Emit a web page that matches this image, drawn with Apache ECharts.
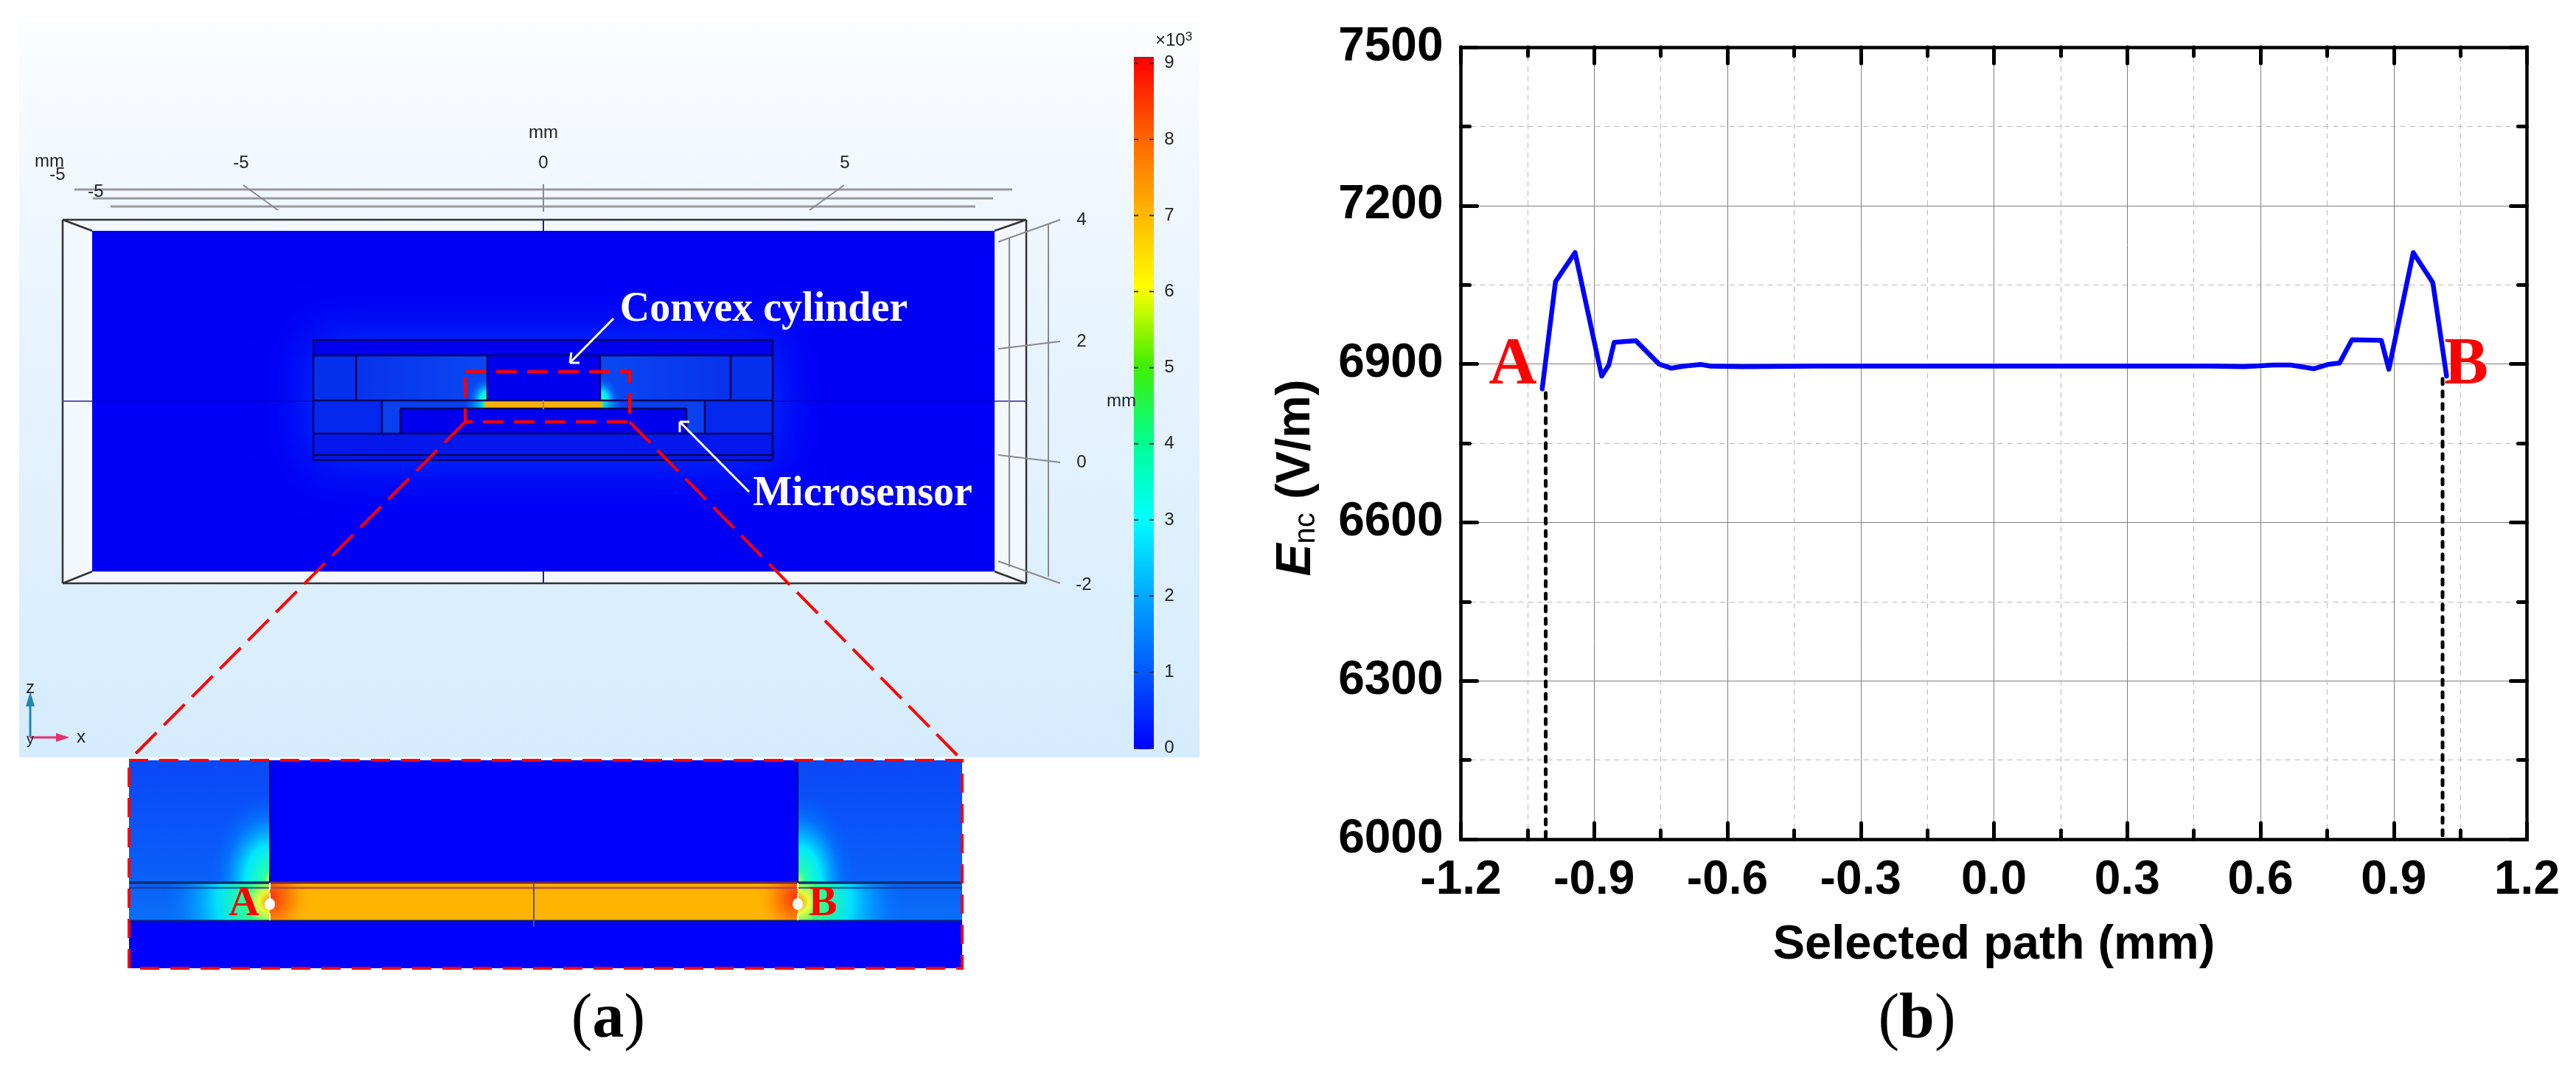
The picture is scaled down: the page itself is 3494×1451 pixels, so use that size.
<!DOCTYPE html>
<html>
<head>
<meta charset="utf-8">
<style>html,body{margin:0;padding:0;background:#fff}#c{width:3494px;height:1451px}</style>
<script src="https://cdn.jsdelivr.net/npm/echarts@6/dist/echarts.min.js"></script>
</head>
<body>
<div id="c"></div>
<script>
// ---------- chart (b) data ----------
const pathX = [-1.017,-0.987,-0.943,-0.883,-0.867,-0.855,-0.806,-0.754,-0.726,-0.698,-0.660,-0.638,-0.566,-0.4,-0.2,0,0.2,0.4,0.491,0.563,0.629,0.668,0.720,0.751,0.778,0.806,0.872,0.889,0.944,0.988,1.019];
const pathE = [6853,7056,7111,6877,6898,6941,6944,6900,6892,6896,6899,6896,6895,6896,6896,6896,6896,6896,6896,6895,6898,6898,6891,6899,6902,6946,6945,6890,7111,7054,6877];
const guideAX = [-1.009,-1.009];
const guideAE = [6845,6000];
const guideBX = [1.010,1.010];
const guideBE = [6872,6000];
const xTickLabels = ['-1.2','-0.9','-0.6','-0.3','0.0','0.3','0.6','0.9','1.2'];
const yTickLabels = ['6000','6300','6600','6900','7200','7500'];
// ---------- panel (a) labels ----------
const colorbarLabels = ['0','1','2','3','4','5','6','7','8','9'];
const colorbarColors = ['#0000ff','#0058ff','#00a8ff','#00ffff','#00ff90','#40f000','#ffff00','#ffb400','#ff6000','#ff0000'];

const SANS='"Liberation Sans",Arial,sans-serif', SERIF='"Liberation Serif","Times New Roman",serif';
const g=[];
const rect=(x,y,w,h,fill,z,extra)=>g.push({type:'rect',shape:{x,y,width:w,height:h},style:Object.assign({fill},extra||{}),z:z||1,silent:true});
const line=(x1,y1,x2,y2,stroke,lineWidth,lineDash,z)=>g.push({type:'line',shape:{x1,y1,x2,y2},style:{stroke,lineWidth:lineWidth||2,lineDash:lineDash||null},z:z||2,silent:true});
const txt=(x,y,text,font,size,fill,opt)=>g.push({type:'text',x,y,style:Object.assign({text,fontFamily:font,fontSize:size,fill,align:'center',verticalAlign:'middle'},opt||{}),z:6,silent:true});
const vGrad=(stops)=>({type:'linear',x:0,y:0,x2:0,y2:1,colorStops:stops});
const hGrad=(stops)=>({type:'linear',x:0,y:0,x2:1,y2:0,colorStops:stops});
const rad=(x,y,r,stops)=>({type:'radial',x,y,r,colorStops:stops});
// elliptical corner glow: the corner (cx,cy) is the bottom corner of the quadrant facing outwards from the cylinder
const glow=(cx,cy,rx,ry,dir,stops,z)=>g.push({type:'rect',x:dir<0?cx-rx:cx,y:cy-ry,scaleY:ry/rx,shape:{x:0,y:0,width:rx,height:rx},
  style:{fill:rad(dir<0?1:0,1,1,stops)},z:z||2,silent:true});
const glowStops=[{offset:0,color:'#c0ff50'},{offset:.14,color:'#20ffb0'},{offset:.4,color:'#00e8ff'},{offset:.72,color:'rgba(0,130,255,.6)'},{offset:1,color:'rgba(0,90,255,0)'}];
const bandStops=[{offset:0,color:'#ff8000'},{offset:.1,color:'#e8ff40'},{offset:.22,color:'#30ff90'},{offset:.48,color:'#00e0ff'},{offset:1,color:'rgba(0,90,255,0)'}];

// background
rect(26,29,1601,998,vGrad([{offset:0,color:'#fcfdff'},{offset:.35,color:'#eaf5fe'},{offset:1,color:'#d5ecfe'}]),0);
// COMSOL box
rect(85,298,1307,493,'#f2f8fe',1);
rect(125,313,1224,462,'#0000f5',1);
[[85,298,1392,298],[85,791,1392,791],[85,298,85,791],[1392,298,1392,791],[85,298,125,313],[1392,298,1349,313],[85,791,125,775],[1392,791,1349,775]].forEach(a=>line(a[0],a[1],a[2],a[3],'#333',2.5));
line(85,544,125,544,'#5a5ab0',2);line(1349,544,1392,544,'#5a5ab0',2);
line(737,298,737,313,'#2020a0',2);line(737,775,737,791,'#2020a0',2);
// device with a soft halo
rect(425,461,623,163,'#0000ee',2,{shadowBlur:70,shadowColor:'rgba(0,80,255,.75)'});
rect(425,482,58,61,'#0530ee',2);rect(991,482,57,61,'#0530ee',2);
rect(483,482,178,61,hGrad([{offset:0,color:'#0832ee'},{offset:1,color:'#0a48f2'}]),2);
rect(814,482,177,61,hGrad([{offset:0,color:'#0a48f2'},{offset:1,color:'#0832ee'}]),2);
rect(425,543,93,45,'#0428ee',2);rect(956,543,92,45,'#0428ee',2);
rect(518,543,139,45,'#0a40f0',2);rect(817,543,139,45,'#0a40f0',2);
rect(543,554,388,34,'#0000ee',3);
rect(425,588,623,36,'#0418ee',2);
glow(661,543,26,32,-1,glowStops,3);glow(814,543,26,32,1,glowStops,3);
rect(630,543,27,11,hGrad([{offset:0,color:'rgba(0,150,255,0)'},{offset:1,color:'#00f0e0'}]),3);
rect(817,543,27,11,hGrad([{offset:0,color:'#00f0e0'},{offset:1,color:'rgba(0,150,255,0)'}]),3);
rect(657,543,160,11,'#f8b000',3);
[[425,461,1048,461],[425,482,1048,482],[425,543,1048,543],[425,588,1048,588],[425,617,1048,617],[425,624,1048,624],[425,461,425,624],[1048,461,1048,624],[483,482,483,543],[991,482,991,543],[661,482,661,543],[814,482,814,543],[518,543,518,588],[956,543,956,588],[543,554,931,554],[543,554,543,588],[931,554,931,588]].forEach(a=>line(a[0],a[1],a[2],a[3],'#05055c',2.5,null,4));
line(125,544,425,544,'rgba(0,0,120,.5)',1.5,null,4);line(1048,544,1349,544,'rgba(0,0,120,.5)',1.5,null,4);
line(737,543,737,555,'#8080c0',2,null,4);
// axes decoration
[[101,257,1373,257],[126,269,1347,269],[150,280,1323,280]].forEach(a=>line(a[0],a[1],a[2],a[3],'#999',3));
[[330,251,377,285],[737,250,737,287],[1145,251,1098,285],[1354,328,1438,298],[1354,473,1438,463],[1354,617,1438,627],[1354,761,1438,791],[1369,324,1369,769],[1422,304,1422,782]].forEach(a=>line(a[0],a[1],a[2],a[3],'#8a8a8a',2));
[['mm',737,180],['-5',327,221],['0',737,221],['5',1146,221],['mm',67,219],['-5',78,237],['-5',130,260],['4',1467,298],['2',1467,463],['0',1467,627],['-2',1470,793],['mm',1521,544]].forEach(a=>txt(a[1],a[2],a[0],SANS,24,'#222'));
// triad
line(41,1000,41,950,'#2088b0',3);g.push({type:'polygon',shape:{points:[[41,938],[35,958],[47,958]]},style:{fill:'#2088b0'},z:3,silent:true});
line(41,1000,84,1000,'#e8306a',3);g.push({type:'polygon',shape:{points:[[94,1000],[76,994],[76,1006]]},style:{fill:'#e8306a'},z:3,silent:true});
txt(41,933,'z',SANS,24,'#222');txt(110,1000,'x',SANS,24,'#222');txt(41,1003,'y',SANS,20,'#222');
// colorbar
rect(1538,78,27,938,vGrad(colorbarColors.map((c,i)=>({offset:1-i/9,color:c})).reverse()),3);
line(1538,78,1565,78,'#333',1.5,null,4);
colorbarLabels.forEach((s,i)=>{const y=1014.6-i*103.2;txt(1586,y,s,SANS,24,'#222');line(1538,y,1544,y,'#333',2,null,4);line(1559,y,1565,y,'#333',2,null,4);});
g.push({type:'text',x:1592,y:55,style:{text:'×10{s|3}',rich:{s:{fontSize:17,verticalAlign:'top',fontFamily:SANS,fill:'#222',padding:[0,0,10,0]}},fontFamily:SANS,fontSize:24,fill:'#222',align:'center',verticalAlign:'middle'},z:6,silent:true});
// annotations
txt(1036,421,'Convex cylinder',SERIF,56,'#fff',{fontWeight:'bold'});
txt(1170,671,'Microsensor',SERIF,56,'#fff',{fontWeight:'bold'});
const arrow=(x1,y1,x2,y2)=>{line(x1,y1,x2,y2,'#fff',3,null,7);};
arrow(832,432,773,492);line(773,492,786,492,'#fff',3,null,7);line(773,492,775,478,'#fff',3,null,7);
arrow(1016,667,922,572);line(922,572,935,572,'#fff',3,null,7);line(922,572,922,586,'#fff',3,null,7);
// red guide
g.push({type:'rect',shape:{x:631,y:504,width:223,height:68},style:{fill:null,stroke:'#f00',lineWidth:4,lineDash:[28,14]},z:8,silent:true});
line(631,572,175,1031,'#f00',4,[40,14],8);line(854,572,1305,1031,'#f00',4,[40,14],8);
// magnified panel
rect(175,1031,1130,282,'#0000ff',1);
rect(175,1031,191,218,vGrad([{offset:0,color:'#0a48f6'},{offset:.5,color:'#0a58f8'},{offset:.76,color:'#0a60f8'},{offset:1,color:'#0a70f8'}]),1);
rect(1082,1031,223,218,vGrad([{offset:0,color:'#0a48f6'},{offset:.5,color:'#0a58f8'},{offset:.76,color:'#0a60f8'},{offset:1,color:'#0a70f8'}]),1);
rect(366,1031,716,166,'#0000ff',2);
glow(366,1197,85,125,-1,glowStops,2);
glow(1082,1197,80,125,1,glowStops,2);
rect(216,1197,150,52,rad(1,.5,2.9,bandStops),2);
rect(1082,1197,150,52,rad(0,.5,2.9,bandStops),2);
rect(366,1197,716,52,'#ffb400',2);
rect(366,1197,60,52,rad(0,.4,1.1,[{offset:0,color:'#ff3010'},{offset:.55,color:'#ff8c00'},{offset:1,color:'rgba(255,180,0,0)'}]),3);
rect(1022,1197,60,52,rad(1,.4,1.1,[{offset:0,color:'#ff3010'},{offset:.55,color:'#ff8c00'},{offset:1,color:'rgba(255,180,0,0)'}]),3);
line(175,1197,366,1197,'#103070',3.5,null,4);line(1082,1197,1305,1197,'#103070',3.5,null,4);
line(175,1204,366,1204,'rgba(20,50,130,.7)',2.5,null,4);line(1082,1204,1305,1204,'rgba(20,50,130,.7)',2.5,null,4);
line(366,1197,1082,1197,'#7a2a30',3,null,4);line(366,1204,1082,1204,'rgba(170,70,70,.8)',3,null,4);
line(175,1249,1305,1249,'#081a80',3,null,4);
line(366,1031,366,1197,'#05055c',2,null,4);line(1082,1031,1082,1197,'#05055c',2,null,4);
line(724,1197,724,1257,'#5050a0',2,null,4);
[366,1082].forEach(x=>{line(x,1197,x,1253,'#fff',2,[9,5],5);g.push({type:'ellipse',shape:{cx:x,cy:1226,rx:7,ry:8},style:{fill:'#fff'},z:5,silent:true});});
txt(331,1226,'A',SERIF,58,'#f00',{fontWeight:'bold'});txt(1116,1226,'B',SERIF,58,'#f00',{fontWeight:'bold'});
g.push({type:'rect',shape:{x:175,y:1031,width:1130,height:282},style:{fill:null,stroke:'#f00',lineWidth:4,lineDash:[26,15]},z:8,silent:true});
// captions
const cap=(x,t)=>g.push({type:'text',x,y:1384,style:{text:'{p|(}{b|'+t+'}{p|)}',rich:{p:{fontFamily:SERIF,fontSize:86,fill:'#000'},b:{fontFamily:SERIF,fontSize:86,fontWeight:'bold',fill:'#000'}},align:'center',verticalAlign:'middle'},z:6,silent:true});
cap(825,'a');cap(2600,'b');
// A/B labels chart
txt(2052,497,'A',SERIF,90,'#f00',{fontWeight:'bold'});
txt(3345,497,'B',SERIF,90,'#f00',{fontWeight:'bold'});

const frame={lineStyle:{color:'#000',width:4.5,cap:'square'}};
const mkX=(pos,show)=>({type:'value',position:pos,min:-1.2,max:1.2,interval:0.3,
  axisLine:Object.assign({show:true,onZero:false},frame),
  axisTick:{show:true,inside:true,length:22,lineStyle:{color:'#000',width:5,cap:'round'}},
  minorTick:{show:true,splitNumber:2,length:12,lineStyle:{color:'#000',width:5,cap:'round'}},
  splitLine:{show:show,lineStyle:{color:'#808080',width:1}},
  minorSplitLine:{show:show,lineStyle:{color:'#b8b8b8',width:1,type:[7,6]}},
  axisLabel:{show:show,fontFamily:SANS,fontWeight:'bold',fontSize:64,color:'#000',margin:24,formatter:v=>xTickLabels[Math.round((v+1.2)/0.3)]},
  name:show?'Selected path (mm)':'',nameLocation:'middle',nameGap:112,nameTextStyle:{fontFamily:SANS,fontWeight:'bold',fontSize:65,color:'#000'}});
const mkY=(pos,show)=>({type:'value',position:pos,min:6000,max:7500,interval:300,
  axisLine:Object.assign({show:true,onZero:false},frame),
  axisTick:{show:true,inside:true,length:22,lineStyle:{color:'#000',width:5,cap:'round'}},
  minorTick:{show:true,splitNumber:2,length:12,lineStyle:{color:'#000',width:5,cap:'round'}},
  splitLine:{show:show,lineStyle:{color:'#808080',width:1}},
  minorSplitLine:{show:show,lineStyle:{color:'#b8b8b8',width:1,type:[7,6]}},
  axisLabel:{show:show,fontFamily:SANS,fontWeight:'bold',fontSize:64,color:'#000',margin:24,formatter:v=>yTickLabels[Math.round((v-6000)/300)]},
  name:show?'{e|E}{s|nc}{n| (V/m)}':'',nameLocation:'middle',nameGap:190,nameRotate:90,
  nameTextStyle:{padding:[0,94,0,0],rich:{e:{fontFamily:SANS,fontWeight:'bold',fontStyle:'italic',fontSize:66,color:'#000'},s:{fontFamily:SANS,fontSize:40,fontWeight:'normal',color:'#000',verticalAlign:'bottom',lineHeight:50,padding:[24,0,0,0]},n:{fontFamily:SANS,fontWeight:'bold',fontSize:65,color:'#000'}}}});
const pairs=(a,b)=>a.map((v,i)=>[v,b[i]]);
const chart=echarts.init(document.getElementById('c'),null,{renderer:'canvas',width:3494,height:1451});
chart.setOption({
  animation:false,backgroundColor:'#fff',
  grid:{left:1981.5,right:66.5,top:64,bottom:313,containLabel:false},
  xAxis:[mkX('bottom',true),mkX('top',false)],
  yAxis:[mkY('left',true),mkY('right',false)],
  series:[
    {name:'Enc',type:'line',data:pairs(pathX,pathE),symbol:'none',z:5,lineStyle:{color:'#0000ff',width:6.5,cap:'round',join:'round'}},
    {name:'A',type:'line',data:pairs(guideAX,guideAE),symbol:'none',z:4,lineStyle:{color:'#000',width:5,type:[7,10],cap:'round'}},
    {name:'B',type:'line',data:pairs(guideBX,guideBE),symbol:'none',z:4,lineStyle:{color:'#000',width:5,type:[7,10],cap:'round'}}
  ],
  graphic:{elements:g}
});
</script>
</body>
</html>
